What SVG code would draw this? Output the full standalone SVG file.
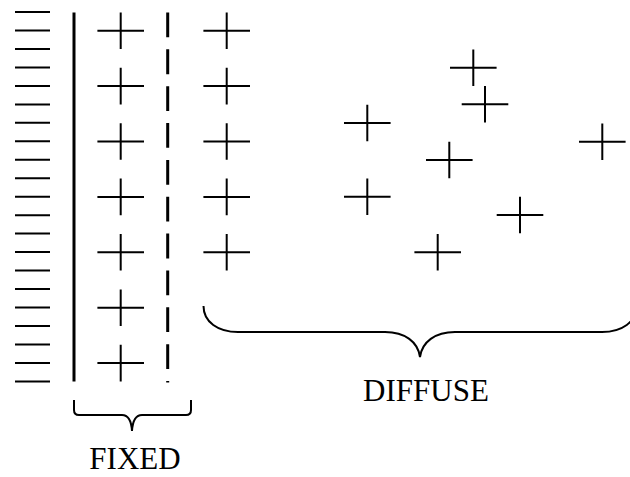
<svg xmlns="http://www.w3.org/2000/svg" xmlns:xlink="http://www.w3.org/1999/xlink" width="630" height="477" viewBox="0 0 630 477">
<style>
.ln{stroke:#000;stroke-width:2;fill:none}
.thick{stroke:#000;stroke-width:3;fill:none}
.lbl{font-family:"Liberation Serif","Times New Roman",serif;font-size:31px;fill:#000;text-anchor:middle}
</style>
<defs>
<path id="cross" class="ln" d="M-23.3,0H23.3M0,-18.3V18.3"/>
<path id="hatch" class="ln" d="M15,0H50"/>
</defs>
<rect width="630" height="477" fill="#fff"/>
<g id="wall-hatch">
<use xlink:href="#hatch" y="12"/><use xlink:href="#hatch" y="30.5"/><use xlink:href="#hatch" y="48.9"/><use xlink:href="#hatch" y="67.4"/><use xlink:href="#hatch" y="85.9"/><use xlink:href="#hatch" y="104.4"/><use xlink:href="#hatch" y="122.8"/><use xlink:href="#hatch" y="141.3"/><use xlink:href="#hatch" y="159.8"/><use xlink:href="#hatch" y="178.2"/><use xlink:href="#hatch" y="196.7"/><use xlink:href="#hatch" y="215.2"/><use xlink:href="#hatch" y="233.6"/><use xlink:href="#hatch" y="252.1"/><use xlink:href="#hatch" y="270.6"/><use xlink:href="#hatch" y="289"/><use xlink:href="#hatch" y="307.5"/><use xlink:href="#hatch" y="326"/><use xlink:href="#hatch" y="344.5"/><use xlink:href="#hatch" y="362.9"/><use xlink:href="#hatch" y="381.4"/>
</g>
<g id="wall-line"><path class="thick" d="M74,12.5V381.5"/></g>
<g id="fixed-boundary"><path class="thick" d="M167.7,12.5V382.5" stroke-dasharray="24.8 12.05"/></g>
<g id="fixed-ions">
<use xlink:href="#cross" x="120.7" y="30.7"/><use xlink:href="#cross" x="120.7" y="86.1"/><use xlink:href="#cross" x="120.7" y="141.5"/><use xlink:href="#cross" x="120.7" y="196.9"/><use xlink:href="#cross" x="120.7" y="252.3"/><use xlink:href="#cross" x="120.7" y="307.7"/><use xlink:href="#cross" x="120.7" y="363.1"/>
</g>
<g id="diffuse-ions">
<use xlink:href="#cross" x="226.7" y="30.7"/><use xlink:href="#cross" x="226.7" y="86.1"/><use xlink:href="#cross" x="226.7" y="141.5"/><use xlink:href="#cross" x="226.7" y="196.9"/><use xlink:href="#cross" x="226.7" y="252.3"/>
<use xlink:href="#cross" x="473.3" y="67.7"/><use xlink:href="#cross" x="485" y="104.3"/><use xlink:href="#cross" x="367.3" y="123"/><use xlink:href="#cross" x="602.3" y="141.7"/><use xlink:href="#cross" x="449.3" y="160"/><use xlink:href="#cross" x="367.3" y="196.7"/><use xlink:href="#cross" x="520" y="215"/><use xlink:href="#cross" x="437.7" y="252.3"/>
</g>
<g id="fixed-brace"><path class="ln" d="M74,400V410Q74,415 79,415H122Q131,415 132,431Q133,415 142,415H186Q191,415 191,410V400"/></g>
<g id="diffuse-brace"><path class="ln" d="M203.5,306C203.5,322 218,332 238,332H385C405,332 418,342 420,357C422,342 435,332 455,332H602C622,332 636.5,322 636.5,306"/></g>
<g id="labels">
<text class="lbl" x="135" y="469">FIXED</text>
<text class="lbl" x="426" y="401">DIFFUSE</text>
</g>
</svg>
